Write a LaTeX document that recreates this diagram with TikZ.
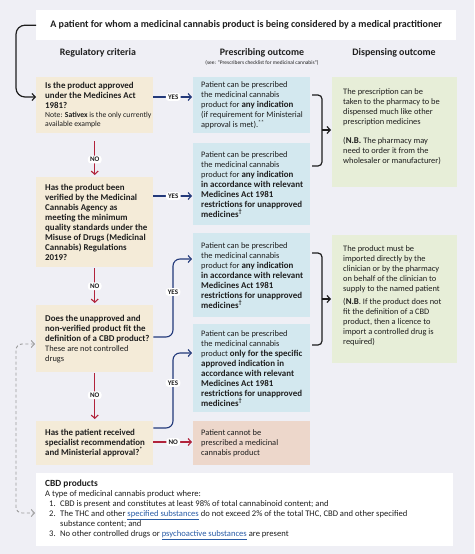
\documentclass[tikz,border=0pt]{standalone}
\usepackage{fontspec}
\setmainfont{Carlito}
\usetikzlibrary{arrows.meta}
\definecolor{bgc}{HTML}{EFEFF5}
\definecolor{tanc}{HTML}{F4EBD8}
\definecolor{bluc}{HTML}{D3E8EF}
\definecolor{grnc}{HTML}{E7EED8}
\definecolor{pnkc}{HTML}{EDD7CB}
\definecolor{navc}{HTML}{22397A}
\definecolor{redc}{HTML}{B1233B}
\definecolor{lnkc}{HTML}{2A5CA6}
\definecolor{dshc}{HTML}{9B9B9B}
\definecolor{txtc}{HTML}{1E1E1E}
\newcommand{\bodyf}{\fontsize{8.4}{10}\selectfont}
\newcommand{\notef}{\fontsize{7.7}{9}\selectfont}
\newcommand{\cbdf}{\fontsize{8.6}{10}\selectfont}
\newcommand{\hdrf}{\fontsize{9.9}{11}\selectfont\bfseries}
\newcommand{\titf}{\fontsize{10}{11}\selectfont\bfseries}
\newcommand{\pillf}{\fontsize{7}{8}\selectfont\bfseries}
\newcommand{\B}[1]{{\fontsize{8.9}{10}\selectfont\bfseries #1}}
\newcommand{\dg}{\textsuperscript{†}}
\begin{document}
\begin{tikzpicture}[x=1pt,y=-1pt,
  panel/.style={anchor=north west, draw=none, inner sep=0pt, minimum width=117pt},
  qbox/.style={panel, fill=tanc},
  pbox/.style={panel, fill=bluc},
  dbox/.style={panel, fill=grnc, minimum width=125pt},
  nbox/.style={panel, fill=pnkc},
  wbox/.style={anchor=north west, fill=white, inner sep=0pt, text=txtc},
  btext/.style={anchor=west, inner sep=0pt, align=left, font=\bodyf, text=txtc},
  hdr/.style={font=\hdrf, inner sep=0pt, text=txtc},
  pill/.style={fill=white, rounded corners=3pt, inner xsep=2.2pt, inner ysep=1.6pt, font=\pillf, text=txtc},
  tipb/.tip={Straight Barb[length=3.2pt,width=7pt]},
  yesln/.style={draw=navc, line width=1.1pt, -tipb, rounded corners=7pt},
  noln/.style={draw=redc, line width=1.1pt, -tipb},
  blkln/.style={draw=txtc, line width=1.2pt, rounded corners=9pt, -tipb},
  brk/.style={draw=txtc, line width=1.2pt, rounded corners=4pt},
  brkarr/.style={draw=txtc, line width=1.2pt, -tipb},
  dshln/.style={draw=dshc, line width=0.9pt, dash pattern=on 3pt off 2.5pt, rounded corners=6pt, tipb-tipb},
]
\fill[bgc] (0,0) rectangle (474,554);
\useasboundingbox (0,0) rectangle (474,554);

% title and headers
\node[wbox, minimum width=420pt, minimum height=30pt, font=\titf] (title) at (36,10) {A patient for whom a medicinal cannabis product is being considered by a medical practitioner};
\node[hdr] (h1) at (98,53) {Regulatory criteria};
\node[hdr] (h2) at (262,53) {Prescribing outcome};
\node[font=\fontsize{5.4}{6}\selectfont, inner sep=0pt, text=txtc] (h2s) at (262,63) {(see: “Prescribers checklist for medicinal cannabis”)};
\node[hdr] (h3) at (394,53) {Dispensing outcome};

% regulatory criteria
\node[qbox, minimum height=56pt] (q1) at (36,77) {};
\node[btext] (q1t) at ([xshift=9pt]q1.west) {\B{Is the product approved}\\ \B{under the Medicines Act}\\ \B{1981?}\\[-1pt] {\notef Note: \textbf{Sativex} is the only currently}\\[-1pt] {\notef available example}};

\node[qbox, minimum height=90pt] (q2) at (36,177) {};
\node[btext] (q2t) at ([xshift=9pt]q2.west) {\B{Has the product been}\\ \B{verified by the Medicinal}\\ \B{Cannabis Agency as}\\ \B{meeting the minimum}\\ \B{quality standards under the}\\ \B{Misuse of Drugs (Medicinal}\\ \B{Cannabis) Regulations}\\ \B{2019?}};

\node[qbox, minimum height=67pt] (q3) at (36,305) {};
\node[btext] (q3t) at ([xshift=9pt]q3.west) {\B{Does the unapproved and}\\ \B{non-verified product fit the}\\ \B{definition of a CBD product?}\\ These are not controlled\\ drugs};

\node[qbox, minimum height=44pt] (q4) at (36,421) {};
\node[btext] (q4t) at ([xshift=9pt]q4.west) {\B{Has the patient received}\\ \B{specialist recommendation}\\ \B{and Ministerial approval?\textsuperscript{*}}};

% prescribing outcomes
\node[pbox, minimum height=56pt] (p1) at (193,77) {};
\node[btext] (p1t) at ([xshift=8pt]p1.west) {Patient can be prescribed\\ the medicinal cannabis\\ product for \B{any indication}\\ (if requirement for Ministerial\\ approval is met).\textsuperscript{**}};

\node[pbox, minimum height=82pt] (p2) at (193,143) {};
\node[btext] (p2t) at ([xshift=8pt]p2.west) {Patient can be prescribed\\ the medicinal cannabis\\ product for \B{any indication}\\ \B{in accordance with relevant}\\ \B{Medicines Act 1981}\\ \B{restrictions for unapproved}\\ \B{medicines\dg}};

\node[pbox, minimum height=84pt] (p3) at (193,233) {};
\node[btext] (p3t) at ([xshift=8pt]p3.west) {Patient can be prescribed\\ the medicinal cannabis\\ product for \B{any indication}\\ \B{in accordance with relevant}\\ \B{Medicines Act 1981}\\ \B{restrictions for unapproved}\\ \B{medicines\dg}};

\node[pbox, minimum height=88pt] (p4) at (193,324) {};
\node[btext] (p4t) at ([xshift=8pt]p4.west) {Patient can be prescribed\\ the medicinal cannabis\\ product \B{only for the specific}\\ \B{approved indication in}\\ \B{accordance with relevant}\\ \B{Medicines Act 1981}\\ \B{restrictions for unapproved}\\ \B{medicines\dg}};

\node[nbox, minimum height=44pt] (p5) at (193,421) {};
\node[btext] (p5t) at ([xshift=8pt]p5.west) {Patient cannot be\\ prescribed a medicinal\\ cannabis product};

% dispensing outcomes
\node[dbox, minimum height=110pt] (d1) at (332,77) {};
\node[btext] (d1t) at ([xshift=11pt,yshift=6pt]d1.west) {The prescription can be\\ taken to the pharmacy to be\\ dispensed much like other\\ prescription medicines\\[9pt] (\B{N.B.} The pharmacy may\\ need to order it from the\\ wholesaler or manufacturer)};

\node[dbox, minimum height=128pt] (d2) at (332,235) {};
\node[btext] (d2t) at ([xshift=11pt,yshift=3pt]d2.west) {The product must be\\ imported directly by the\\ clinician or by the pharmacy\\ on behalf of the clinician to\\ supply to the named patient\\[3pt] (\B{N.B}. If the product does not\\ fit the definition of a CBD\\ product, then a licence to\\ import a controlled drug is\\ required)};

% CBD definition
\node[wbox, minimum width=417pt, minimum height=73pt] (cbd) at (36,473) {};
\node[btext, font=\cbdf] (cbdt) at ([xshift=9pt]cbd.west) {{\fontsize{9.4}{10}\selectfont\textbf{CBD products}}\\ A type of medicinal cannabis product where:\\ \makebox[15pt][l]{\hspace{4pt}1.}CBD is present and constitutes at least 98\% of total cannabinoid content; and\\ \makebox[15pt][l]{\hspace{4pt}2.}The THC and other \textcolor{lnkc}{\underline{specified substances}} do not exceed 2\% of the total THC, CBD and other specified\\ \hspace*{15pt}substance content; and\\ \makebox[15pt][l]{\hspace{4pt}3.}No other controlled drugs or \textcolor{lnkc}{\underline{psychoactive substances}} are present};

% helper coordinates
\coordinate (lane) at (16,0);
\coordinate (vx) at (173,0);
\coordinate (r1) at (0,97);
\coordinate (r2) at (0,196);
\coordinate (c3a) at (0,337);
\coordinate (c3b) at (0,259);
\coordinate (c4a) at (0,428);
\coordinate (c4b) at (0,353);
\coordinate (n4) at (0,442);
\coordinate (dq3) at (0,344);
\coordinate (dcb) at (0,513);
\coordinate (b1t) at (312,95);
\coordinate (b1m) at (322,130);
\coordinate (b1b) at (312,166);
\coordinate (b2t) at (312,253);
\coordinate (b2m) at (322,299);
\coordinate (b2b) at (312,345);

% start arrow
\draw[blkln] (title.west) -| (lane |- r1) -- (q1.west |- r1);

% NO arrows
\draw[noln, shorten <=8pt, shorten >=2pt] (q1.south) -- (q2.north) node[pos=0.6, pill] {NO};
\draw[noln, shorten <=1pt, shorten >=2pt] (q2.south) -- (q3.north) node[pos=0.5, pill] {NO};
\draw[noln, shorten <=1pt, shorten >=2pt] (q3.south) -- (q4.north) node[pos=0.47, pill] {NO};
\draw[noln, shorten >=1pt] (q4.east |- n4) -- (p5.west |- n4) node[midway, pill] {NO};

% YES arrows
\draw[yesln, shorten >=1pt] (q1.east |- r1) -- (p1.west |- r1) node[midway, pill] {YES};
\draw[yesln, shorten >=1pt] (q2.east |- r2) -- (p2.west |- r2) node[midway, pill] {YES};
\draw[yesln, shorten >=1pt] (q3.east |- c3a) -| (vx |- c3b) -- (p3.west |- c3b);
\node[pill] (y3) at (173,292) {YES};
\draw[yesln, shorten >=1pt] (q4.east |- c4a) -| (vx |- c4b) -- (p4.west |- c4b);
\node[pill] (y4) at (173,383) {YES};

% brackets to dispensing
\draw[brk] (b1t) -| (b1m) |- (b1b);
\draw[brkarr, shorten >=1pt] (b1m) -- (d1.west |- b1m);
\draw[brk] (b2t) -| (b2m) |- (b2b);
\draw[brkarr, shorten >=1pt] (b2m) -- (d2.west |- b2m);

% dashed link CBD question <-> definition
\draw[dshln, shorten <=1pt, shorten >=1pt] (q3.west |- dq3) -| (lane |- dcb) -- (cbd.west |- dcb);
\end{tikzpicture}
\end{document}
